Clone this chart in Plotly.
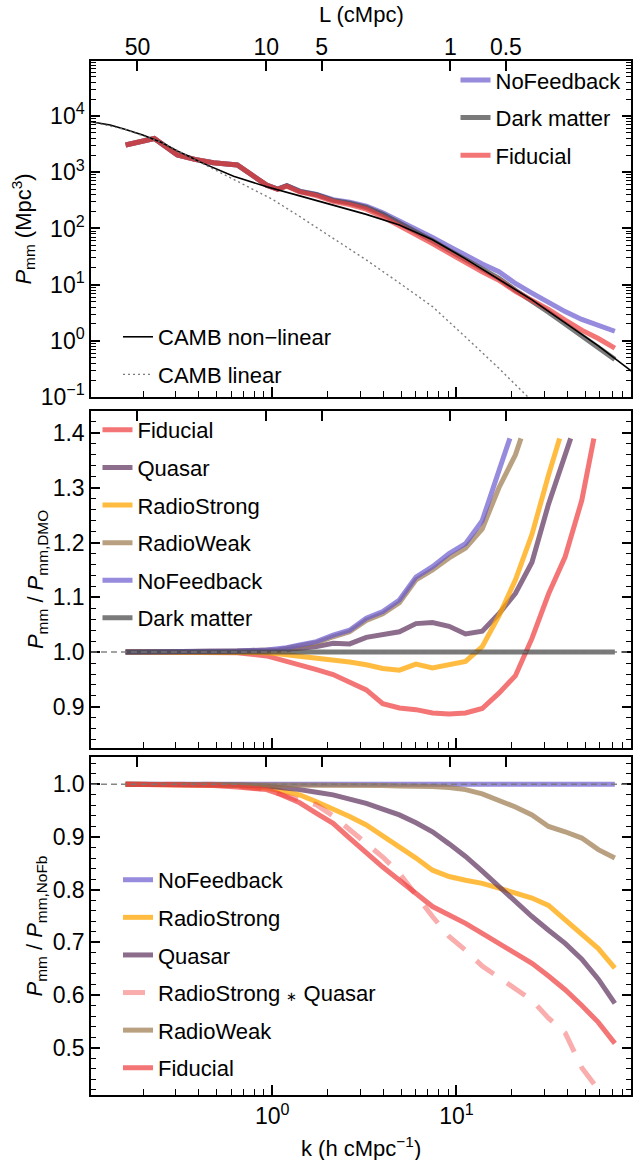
import math
import plotly.graph_objects as go

# ---------------- data ----------------
k_sim = [0.160, 0.229, 0.305, 0.380, 0.479, 0.646, 0.933, 1.07, 1.20, 1.41, 1.74, 2.14, 2.63,
         3.24, 3.98, 4.90, 6.03, 7.41, 9.12, 11.2, 13.8, 17.0, 20.9, 25.7, 31.6, 38.9, 47.9,
         58.9, 72.4]

# top panel: P_mm (Mpc^3)
P_nofb = [3055, 3981, 2042, 1698, 1479, 1349, 589, 501, 575, 462, 405, 326, 292, 250, 191,
          138, 100, 69.2, 47.9, 33.1, 23.4, 17.0, 10.5, 7.08, 4.79, 3.31, 2.40, 1.86, 1.48]
P_dm = [3055, 3981, 2042, 1698, 1479, 1349, 589, 501, 575, 457, 398, 316, 282, 236, 178,
        126, 87.1, 60.3, 40.7, 27.5, 19.1, 12.9, 7.94, 5.13, 3.24, 2.00, 1.23, 0.759, 0.468]
P_fid = [3055, 3981, 2042, 1698, 1479, 1349, 589, 498, 567, 447, 385, 303, 266, 220, 161,
         113, 77.6, 53.7, 36.3, 24.5, 17.0, 12.0, 7.59, 5.25, 3.63, 2.34, 1.55, 1.10, 0.741]

k_camb_nl = [0.1035, 0.132, 0.160, 0.200, 0.251, 0.305, 0.355, 0.407, 0.617, 0.933, 1.41,
             2.14, 3.24, 4.90, 7.41, 11.2, 17.0, 25.7, 38.9, 58.9, 89.1]
P_camb_nl = [7943, 6918, 5754, 4571, 3388, 2399, 1905, 1514, 851, 550, 380, 263, 178, 115,
             63.1, 28.8, 12.6, 5.37, 2.09, 0.813, 0.288]
k_camb_lin = [0.1035, 0.160, 0.251, 0.355, 0.501, 0.708, 1.0, 1.41, 2.14, 3.24, 4.90, 7.41,
              11.2, 17.0, 25.7]
P_camb_lin = [7943, 5754, 3388, 1905, 1047, 589, 331, 163, 66.1, 27.5, 10.7, 4.07, 1.17,
              0.324, 0.0851]

# middle panel: P_mm / P_mm,DMO
k_fid_dmo = k_sim[:27] + [55.7]
r_fid_dmo = [1.000, 1.000, 1.000, 1.000, 1.000, 0.999, 0.993, 0.988, 0.983, 0.978, 0.968,
             0.959, 0.944, 0.931, 0.906, 0.898, 0.895, 0.889, 0.887, 0.889, 0.897, 0.925,
             0.957, 1.025, 1.106, 1.174, 1.277, 1.390]
k_qso_dmo = k_sim[:26] + [41.7]
r_qso_dmo = [1.000, 1.000, 1.000, 1.000, 1.000, 1.001, 1.002, 1.003, 1.005, 1.008, 1.010,
             1.016, 1.015, 1.027, 1.031, 1.037, 1.052, 1.054, 1.047, 1.033, 1.038, 1.070,
             1.107, 1.164, 1.270, 1.356, 1.390]
k_rs_dmo = k_sim[:25] + [36.3]
r_rs_dmo = [1.000, 1.000, 1.000, 1.000, 1.000, 1.000, 0.999, 0.997, 0.995, 0.993, 0.990,
            0.987, 0.982, 0.977, 0.970, 0.967, 0.978, 0.971, 0.976, 0.983, 1.010, 1.066,
            1.132, 1.215, 1.323, 1.390]
k_rw_dmo = k_sim[:23] + [22.4]
r_rw_dmo = [1.000, 1.000, 1.000, 1.000, 1.001, 1.002, 1.004, 1.004, 1.007, 1.011, 1.017,
            1.028, 1.037, 1.058, 1.070, 1.090, 1.132, 1.150, 1.172, 1.190, 1.225, 1.300,
            1.360, 1.390]
k_nofb_dmo = k_sim[:22] + [19.5]
r_nofb_dmo = [1.000, 1.000, 1.000, 1.000, 1.001, 1.002, 1.004, 1.005, 1.008, 1.013, 1.019,
              1.031, 1.040, 1.062, 1.074, 1.095, 1.137, 1.156, 1.180, 1.198, 1.240, 1.331,
              1.390]
r_dm_dmo = [1.0, 1.0, 1.0, 1.0, 1.0, 1.0, 1.0, 1.0, 1.0, 1.0, 1.0, 1.0, 1.0, 1.0, 1.0, 1.0,
            1.0, 1.0, 1.0, 1.0, 1.0, 1.0, 1.0, 1.0, 1.0, 1.0, 1.0, 1.0, 1.0]

# bottom panel: P_mm / P_mm,NoFb
r_nofb_nofb = [1.0, 1.0, 1.0, 1.0, 1.0, 1.0, 1.0, 1.0, 1.0, 1.0, 1.0, 1.0, 1.0, 1.0, 1.0,
               1.0, 1.0, 1.0, 1.0, 1.0, 1.0, 1.0, 1.0, 1.0, 1.0, 1.0, 1.0, 1.0, 1.0]
r_rs_nofb = [1.000, 1.000, 1.000, 1.000, 1.000, 0.998, 0.993, 0.988, 0.985, 0.980, 0.967,
             0.954, 0.939, 0.923, 0.903, 0.882, 0.860, 0.837, 0.825, 0.818, 0.812, 0.803,
             0.793, 0.784, 0.770, 0.742, 0.717, 0.688, 0.651]
r_qso_nofb = [1.000, 1.000, 1.000, 1.000, 1.000, 0.999, 0.997, 0.995, 0.993, 0.990, 0.985,
              0.980, 0.972, 0.964, 0.953, 0.942, 0.927, 0.910, 0.887, 0.863, 0.835, 0.806,
              0.777, 0.749, 0.723, 0.698, 0.668, 0.630, 0.584]
k_rsq = k_sim[:28]
r_rsq_nofb = [1.000, 1.000, 1.000, 1.000, 1.000, 0.997, 0.990, 0.983, 0.978, 0.970, 0.961,
              0.940, 0.915, 0.889, 0.862, 0.831, 0.788, 0.749, 0.711, 0.685, 0.655, 0.633,
              0.610, 0.590, 0.556, 0.528, 0.462, 0.420]
r_rw_nofb = [1.000, 1.000, 1.000, 1.000, 1.000, 1.000, 1.000, 1.000, 1.000, 1.000, 1.000,
             0.999, 0.999, 0.998, 0.998, 0.997, 0.997, 0.996, 0.994, 0.990, 0.982, 0.970,
             0.957, 0.942, 0.920, 0.910, 0.898, 0.876, 0.860]
r_fid_nofb = [1.000, 1.000, 0.999, 0.998, 0.998, 0.995, 0.990, 0.983, 0.975, 0.965, 0.945,
              0.926, 0.898, 0.869, 0.843, 0.818, 0.793, 0.768, 0.752, 0.736, 0.717, 0.698,
              0.680, 0.660, 0.636, 0.610, 0.580, 0.548, 0.508]

# top axis: comoving length scale labels
L_labels = [50, 10, 5, 1, 0.5]
h_hubble = 0.6774

# ---------------- styling ----------------
FONT = "Liberation Sans, Arial, sans-serif"
C_FID = "rgba(240,59,59,0.7)"
C_QSO = "rgba(91,48,91,0.7)"
C_RS = "rgba(255,165,0,0.75)"
C_RW = "rgba(155,119,76,0.7)"
C_NOFB = "rgba(106,90,205,0.7)"
C_DM = "rgba(65,65,65,0.7)"
C_RSQ = "rgba(240,59,59,0.42)"
LW = 5

fig = go.Figure()


def add(x, y, name, color, xa, ya, legend, width=LW, dash=None, grp=None):
    fig.add_trace(go.Scatter(
        x=x, y=y, mode="lines", name=name, xaxis=xa, yaxis=ya, legend=legend,
        legendgroup=grp or (legend + name),
        line=dict(color=color, width=width, dash=dash), hoverinfo="skip"))


# top panel
add(k_sim, P_nofb, "NoFeedback", C_NOFB, "x", "y", "legend")
add(k_sim, P_dm, "Dark matter", C_DM, "x", "y", "legend")
add(k_sim, P_fid, "Fiducial", C_FID, "x", "y", "legend")
add(k_camb_nl, P_camb_nl, "CAMB non\u2212linear", "black", "x", "y", "legend2", width=1.6)
add(k_camb_lin, P_camb_lin, "CAMB linear", "rgba(110,110,110,0.9)", "x", "y", "legend2",
    width=1.4, dash="2px,3px")

# middle panel
add(k_fid_dmo, r_fid_dmo, "Fiducial", C_FID, "x2", "y2", "legend3")
add(k_qso_dmo, r_qso_dmo, "Quasar", C_QSO, "x2", "y2", "legend3")
add(k_rs_dmo, r_rs_dmo, "RadioStrong", C_RS, "x2", "y2", "legend3")
add(k_rw_dmo, r_rw_dmo, "RadioWeak", C_RW, "x2", "y2", "legend3")
add(k_nofb_dmo, r_nofb_dmo, "NoFeedback", C_NOFB, "x2", "y2", "legend3")
add(k_sim, r_dm_dmo, "Dark matter", C_DM, "x2", "y2", "legend3")

# bottom panel
add(k_sim, r_nofb_nofb, "NoFeedback", C_NOFB, "x3", "y3", "legend4")
add(k_sim, r_rs_nofb, "RadioStrong", C_RS, "x3", "y3", "legend4")
add(k_sim, r_qso_nofb, "Quasar", C_QSO, "x3", "y3", "legend4")
add(k_rsq, r_rsq_nofb,
    "RadioStrong <span style='font-size:13px'>\u2217</span> Quasar", C_RSQ,
    "x3", "y3", "legend4", dash="22px,16px")
add(k_sim, r_rw_nofb, "RadioWeak", C_RW, "x3", "y3", "legend4")
add(k_sim, r_fid_nofb, "Fiducial", C_FID, "x3", "y3", "legend4")

# dummy traces for the top (length-scale) axes
for xa, ya in (("x4", "y"), ("x5", "y2"), ("x6", "y3")):
    fig.add_trace(go.Scatter(x=[None], y=[None], xaxis=xa, yaxis=ya, showlegend=False,
                             hoverinfo="skip", mode="lines"))

# ---------------- axes ----------------
XR = [math.log10(0.1038), math.log10(88.6)]
minor_x = [m * 10 ** e for e in (-1, 0, 1) for m in range(2, 10)]
minor_ylog = [m * 10 ** e for e in range(-1, 5) for m in range(2, 10)]
L_k = [2 * math.pi / (h_hubble * L) for L in L_labels]

tickfont = dict(size=23, family=FONT, color="black")
base = dict(showline=True, linecolor="black", linewidth=1.5, ticks="inside",
            tickcolor="black", tickwidth=1.5, showgrid=False, zeroline=False,
            tickfont=tickfont)


def xaxis(domain_anchor, labels):
    return dict(base, type="log", range=XR, anchor=domain_anchor, mirror=True,
                tickmode="array", tickvals=[1, 10],
                ticktext=["10<sup>0</sup>", "10<sup>1</sup>"], ticklen=10,
                showticklabels=labels,
                minor=dict(ticks="inside", ticklen=6, tickvals=minor_x, tickcolor="black",
                           tickwidth=1.2))


def topaxis(over, anchor, labels):
    return dict(type="log", range=XR, overlaying=over, anchor=anchor, side="top",
                showline=False, showgrid=False, zeroline=False, ticks="inside",
                ticklen=10, tickwidth=1.5, tickcolor="black", tickmode="array",
                tickvals=L_k, ticktext=[str(L) for L in L_labels], showticklabels=labels,
                tickfont=tickfont)


D_TOP = [0.675, 1.0]
D_MID = [0.3356, 0.6615]
D_BOT = [0.0, 0.3269]

fig.update_layout(
    xaxis=dict(xaxis("y", False), domain=[0, 1]),
    xaxis2=dict(xaxis("y2", False), domain=[0, 1]),
    xaxis3=dict(xaxis("y3", True), domain=[0, 1]),
    xaxis4=dict(topaxis("x", "y", True), domain=[0, 1]),
    xaxis5=dict(topaxis("x2", "y2", False), domain=[0, 1]),
    xaxis6=dict(topaxis("x3", "y3", False), domain=[0, 1]),
    yaxis=dict(base, type="log", domain=D_TOP, anchor="x", range=[-1.0005, 4.98],
               mirror="ticks", tickmode="array",
               tickvals=[0.1, 1, 10, 100, 1000, 10000],
               ticktext=["10<sup>\u22121</sup>", "10<sup>0</sup>", "10<sup>1</sup>",
                         "10<sup>2</sup>", "10<sup>3</sup>", "10<sup>4</sup>"],
               ticklen=9,
               minor=dict(ticks="inside", ticklen=5, tickvals=minor_ylog,
                          tickcolor="black", tickwidth=1.2)),
    yaxis2=dict(base, domain=D_MID, anchor="x2", range=[0.825, 1.44], mirror="ticks",
                tick0=0, dtick=0.1, tickformat=".1f", ticklen=9,
                minor=dict(ticks="inside", ticklen=5, dtick=0.02, tick0=0,
                           tickcolor="black", tickwidth=1.2)),
    yaxis3=dict(base, domain=D_BOT, anchor="x3", range=[0.41, 1.052], mirror="ticks",
                tick0=0, dtick=0.1, tickformat=".1f", ticklen=9,
                minor=dict(ticks="inside", ticklen=5, dtick=0.02, tick0=0,
                           tickcolor="black", tickwidth=1.2)),
)

# reference lines at unity
for ax in ("2", "3"):
    fig.add_shape(type="line", xref=f"x{ax} domain", x0=0, x1=1, yref=f"y{ax}", y0=1, y1=1,
                  line=dict(color="rgba(120,120,120,0.9)", width=1.5, dash="6px,4px"),
                  layer="above")

# ---------------- legends ----------------
leg = dict(font=dict(size=22, family=FONT, color="black"), bgcolor="rgba(0,0,0,0)",
           xanchor="left", yanchor="top", tracegroupgap=6, itemwidth=30)
fig.update_layout(
    legend=dict(leg, x=0.675, y=1.0018),
    legend2=dict(leg, x=0.05, y=0.7534),
    legend3=dict(leg, x=0.012, y=0.6634),
    legend4=dict(leg, x=0.05, y=0.2283),
)

# ---------------- titles ----------------
TF = dict(size=22, family=FONT, color="black")
ann = [
    dict(text="<i>P</i><sub>mm</sub> (Mpc<sup>3</sup>)", x=-0.1267, y=0.8375,
         textangle=-90),
    dict(text="<i>P</i><sub>mm</sub> / <i>P</i><sub>mm,DMO</sub>", x=-0.1009, y=0.4985,
         textangle=-90),
    dict(text="<i>P</i><sub>mm</sub> / <i>P</i><sub>mm,NoFb</sub>", x=-0.1009, y=0.1634,
         textangle=-90),
    dict(text="k (h cMpc<sup>\u22121</sup>)", x=0.5, y=-0.0503, textangle=0),
    dict(text="L (cMpc)", x=0.5, y=1.0445, textangle=0),
]
for a in ann:
    fig.add_annotation(xref="paper", yref="paper", showarrow=False, font=TF,
                       xanchor="center", yanchor="middle", **a)

fig.update_layout(
    width=635, height=1160, autosize=False,
    margin=dict(l=91, r=2, t=61, b=65, pad=0),
    plot_bgcolor="white", paper_bgcolor="white",
    font=dict(family=FONT, color="black"),
    showlegend=True,
)

fig.write_html("out.html", config={"displayModeBar": False})
